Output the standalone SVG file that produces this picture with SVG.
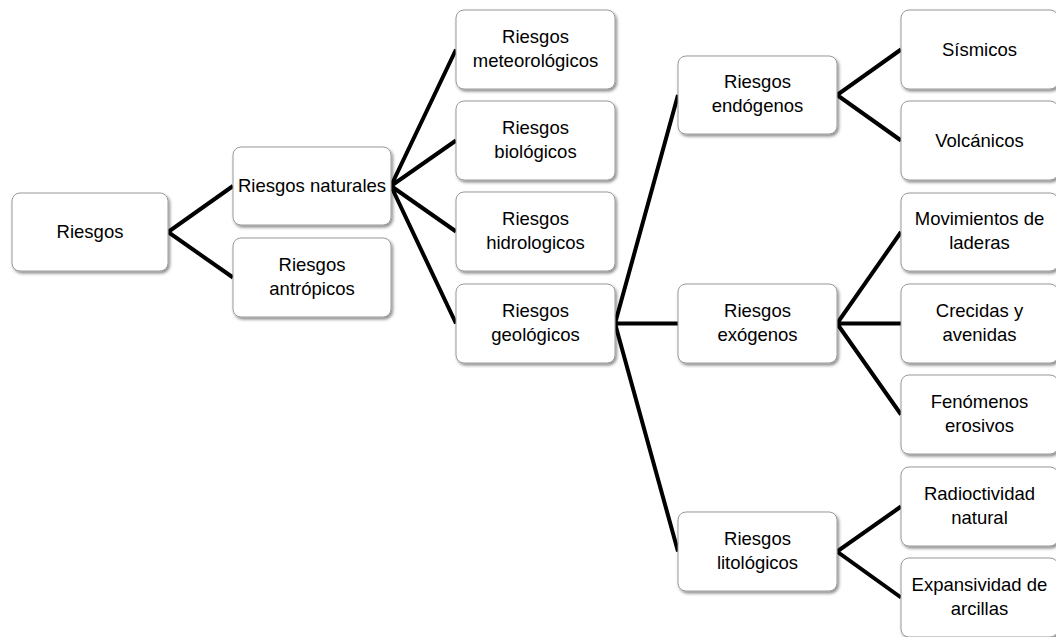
<svg xmlns="http://www.w3.org/2000/svg" width="1056" height="637" viewBox="0 0 1056 637">
<defs>
<filter id="sh" x="-10%" y="-10%" width="125%" height="130%">
<feDropShadow dx="1.5" dy="2" stdDeviation="1.5" flood-color="#000" flood-opacity="0.45"/>
</filter>
</defs>
<style>
.box{fill:#fff;stroke:#9a9a9a;stroke-width:1;filter:url(#sh)}
.t{font-family:"Liberation Sans",Arial,sans-serif;font-size:18.5px;fill:#000;text-anchor:middle}
.c{stroke:#000;stroke-width:4;fill:none;stroke-linecap:butt;stroke-linejoin:miter}
</style>
<rect width="1056" height="637" fill="#fff"/>
<g id="connectors">
<path class="c" d="M233,186 L168,232 L233,277.5"/>
<path class="c" d="M456,49.5 L391,186 L456,140.5 M391,186 L456,231.5 M391,186 L456,323.5"/>
<path class="c" d="M678,95 L615,323.5 L678,323.5 M615,323.5 L678,551.5"/>
<path class="c" d="M901,49.5 L837,95 L901,140.5"/>
<path class="c" d="M901,232 L837,323.5 L901,323.5 M837,323.5 L901,414.5"/>
<path class="c" d="M901,506.5 L837,551.5 L901,597.5"/>
</g>
<g id="n_riesgos"><rect class="box" x="12" y="193" width="156" height="78" rx="8"/><text class="t" x="90" y="238">Riesgos</text></g>
<g id="n_naturales"><rect class="box" x="233" y="147" width="158" height="78" rx="8"/><text class="t" x="312" y="192">Riesgos naturales</text></g>
<g id="n_antropicos"><rect class="box" x="233" y="238" width="158" height="79" rx="8"/><text class="t" x="312" y="271">Riesgos</text><text class="t" x="312" y="295">antrópicos</text></g>
<g id="n_meteorologicos"><rect class="box" x="456" y="10" width="159" height="79" rx="8"/><text class="t" x="535.5" y="43">Riesgos</text><text class="t" x="535.5" y="67">meteorológicos</text></g>
<g id="n_biologicos"><rect class="box" x="456" y="101" width="159" height="79" rx="8"/><text class="t" x="535.5" y="134">Riesgos</text><text class="t" x="535.5" y="158">biológicos</text></g>
<g id="n_hidrologicos"><rect class="box" x="456" y="192" width="159" height="79" rx="8"/><text class="t" x="535.5" y="225">Riesgos</text><text class="t" x="535.5" y="249">hidrologicos</text></g>
<g id="n_geologicos"><rect class="box" x="456" y="284" width="159" height="79" rx="8"/><text class="t" x="535.5" y="317">Riesgos</text><text class="t" x="535.5" y="341">geológicos</text></g>
<g id="n_endogenos"><rect class="box" x="678" y="56" width="159" height="78" rx="8"/><text class="t" x="757.5" y="88">Riesgos</text><text class="t" x="757.5" y="112">endógenos</text></g>
<g id="n_exogenos"><rect class="box" x="678" y="284" width="159" height="79" rx="8"/><text class="t" x="757.5" y="317">Riesgos</text><text class="t" x="757.5" y="341">exógenos</text></g>
<g id="n_litologicos"><rect class="box" x="678" y="512" width="159" height="79" rx="8"/><text class="t" x="757.5" y="545">Riesgos</text><text class="t" x="757.5" y="569">litológicos</text></g>
<g id="n_sismicos"><rect class="box" x="901" y="10" width="157" height="79" rx="8"/><text class="t" x="979.5" y="55.5">Sísmicos</text></g>
<g id="n_volcanicos"><rect class="box" x="901" y="101" width="157" height="79" rx="8"/><text class="t" x="979.5" y="146.5">Volcánicos</text></g>
<g id="n_movimientos"><rect class="box" x="901" y="193" width="157" height="78" rx="8"/><text class="t" x="979.5" y="225">Movimientos de</text><text class="t" x="979.5" y="249">laderas</text></g>
<g id="n_crecidas"><rect class="box" x="901" y="284" width="157" height="79" rx="8"/><text class="t" x="979.5" y="317">Crecidas y</text><text class="t" x="979.5" y="341">avenidas</text></g>
<g id="n_fenomenos"><rect class="box" x="901" y="375" width="157" height="79" rx="8"/><text class="t" x="979.5" y="408">Fenómenos</text><text class="t" x="979.5" y="432">erosivos</text></g>
<g id="n_radioctividad"><rect class="box" x="901" y="467" width="157" height="79" rx="8"/><text class="t" x="979.5" y="500">Radioctividad</text><text class="t" x="979.5" y="524">natural</text></g>
<g id="n_expansividad"><rect class="box" x="901" y="558" width="157" height="79" rx="8"/><text class="t" x="979.5" y="591">Expansividad de</text><text class="t" x="979.5" y="615">arcillas</text></g>
</svg>
